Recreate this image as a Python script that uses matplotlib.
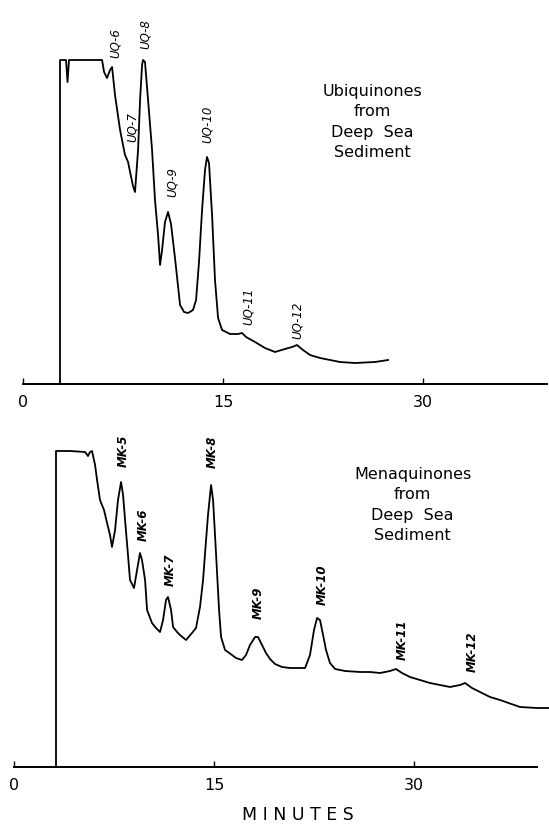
import matplotlib
matplotlib.use("Agg")
import matplotlib.pyplot as plt

# ---------------- data ----------------
# Ubiquinones chromatogram (time in minutes, detector response arbitrary units)
uq_time = [2.775, 2.775, 3.225, 3.34, 3.45, 5.93, 6.08, 6.3, 6.53, 6.68, 6.9, 7.28, 7.65,
           7.88, 8.03, 8.25, 8.4, 8.63, 8.78, 8.93, 9.0, 9.15, 9.38, 9.68, 9.9, 10.13,
           10.28, 10.43, 10.65, 10.88, 11.1, 11.4, 11.78, 12.08, 12.38, 12.75, 12.98,
           13.2, 13.43, 13.65, 13.8, 13.95, 14.18, 14.4, 14.63, 14.93, 15.53, 16.13,
           16.43, 16.73, 17.4, 18.15, 18.9, 19.65, 20.18, 20.55, 21.0, 21.53, 22.28,
           23.78, 24.9, 26.4, 27.38]
uq_signal = [0, 324, 324, 302, 324, 324, 312, 306, 314, 317, 289, 254, 229,
             222, 212, 198, 192, 234, 284, 319, 324, 322, 284, 234, 184, 149,
             119, 134, 162, 172, 160, 126, 79, 72, 71, 74, 84,
             122, 174, 214, 227, 221, 169, 104, 66, 54, 50, 50,
             51, 47, 42, 36, 32, 35, 37, 39, 34, 29, 26,
             22, 21, 22, 24]

# Menaquinones chromatogram
mk_time = [3.15, 3.15, 4.2, 5.33, 5.55, 5.7, 5.85, 6.08, 6.23, 6.45, 6.75, 6.98, 7.2,
           7.35, 7.58, 7.8, 8.03, 8.18, 8.33, 8.55, 8.7, 9.0, 9.23, 9.45, 9.6, 9.83,
           9.98, 10.35, 10.65, 10.95, 11.18, 11.4, 11.55, 11.78, 11.93, 12.23, 12.45,
           12.9, 13.35, 13.65, 13.95, 14.18, 14.33, 14.55, 14.78, 14.93, 15.15, 15.38,
           15.53, 15.83, 16.35, 16.65, 17.1, 17.4, 17.7, 18.08, 18.3, 18.6, 18.9, 19.2,
           19.58, 20.1, 20.7, 21.83, 22.2, 22.5, 22.73, 22.95, 23.18, 23.4, 23.7, 24.08,
           24.83, 25.95, 26.7, 27.45, 28.2, 28.65, 29.1, 29.7, 31.2, 32.7, 33.45, 33.83,
           34.35, 34.95, 35.7, 36.45, 37.95, 39.23, 40.1]
mk_signal = [0, 316, 316, 315, 311, 315, 316, 302, 287, 267, 257, 244, 232,
             220, 237, 267, 285, 272, 247, 212, 187, 179, 197, 214, 207, 187,
             157, 144, 139, 135, 147, 167, 170, 157, 140, 135, 132,
             127, 134, 139, 160, 187, 214, 252, 282, 267, 214, 157,
             130, 117, 112, 109, 107, 112, 122, 130, 130, 122, 114, 108,
             103, 100, 99, 99, 112, 137, 149, 147, 132, 117, 104, 98,
             96, 95, 95, 94, 96, 98, 94, 90, 84, 80, 82, 84,
             79, 75, 70, 67, 60, 59, 59]

uq_labels = ["UQ-6", "UQ-7", "UQ-8", "UQ-9", "UQ-10", "UQ-11", "UQ-12"]
uq_label_t = [6.9, 8.2, 9.15, 11.2, 13.8, 16.9, 20.55]
uq_label_s = [341, 257, 350, 202, 260, 78, 64]

mk_labels = ["MK-5", "MK-6", "MK-7", "MK-8", "MK-9", "MK-10", "MK-11", "MK-12"]
mk_label_t = [8.2, 9.7, 11.7, 14.85, 18.3, 23.1, 29.1, 34.4]
mk_label_s = [316, 242, 197, 315, 164, 182, 127, 115]

tick_values = [0, 15, 30]
tick_labels = ["0", "15", "30"]

uq_title = "Ubiquinones\nfrom\nDeep  Sea\nSediment"
mk_title = "Menaquinones\nfrom\nDeep  Sea\nSediment"
xlabel = "M I N U T E S"

# ---------------- figure ----------------
W, H = 549, 825
fig = plt.figure(figsize=(W / 100, H / 100), dpi=100)
fig.patch.set_facecolor("white")


def make_axes(left_px, right_px, base_px, xmax):
    ax = fig.add_axes([left_px / W, 1 - base_px / H, (right_px - left_px) / W, 340 / H])
    ax.set_xlim(0, xmax)
    ax.set_ylim(0, 340)
    for s in ["left", "top", "right"]:
        ax.spines[s].set_visible(False)
    ax.spines["bottom"].set_linewidth(1.4)
    ax.set_yticks([])
    ax.set_xticks(tick_values)
    ax.set_xticklabels(tick_labels, fontsize=11.5)
    ax.tick_params(axis="x", direction="in", length=4, width=1, pad=8)
    ax.patch.set_alpha(0)
    return ax


ax1 = make_axes(23, 547, 384, (547 - 23) * 0.075)
ax2 = make_axes(14, 537, 767, (537 - 14) * 0.075)

ax1.plot(uq_time, uq_signal, color="black", lw=1.3, clip_on=False)
ax2.plot(mk_time, mk_signal, color="black", lw=1.3, clip_on=False)

for lab, t, s in zip(uq_labels, uq_label_t, uq_label_s):
    ax1.text(t, s, lab, rotation=90, ha="center", va="center", fontsize=8.5,
             style="italic", clip_on=False)
for lab, t, s in zip(mk_labels, mk_label_t, mk_label_s):
    ax2.text(t, s, lab, rotation=90, ha="center", va="center", fontsize=8.5,
             style="italic", fontweight="bold", clip_on=False)

ax1.text(26.2, 262, uq_title, ha="center", va="center", fontsize=11.5,
         linespacing=1.45)
ax2.text(29.9, 262, mk_title, ha="center", va="center", fontsize=11.5,
         linespacing=1.45)

fig.text(298 / W, 1 - 815 / H, xlabel, ha="center", va="center", fontsize=12.5)

fig.savefig("out.png", dpi=100, facecolor="white")
